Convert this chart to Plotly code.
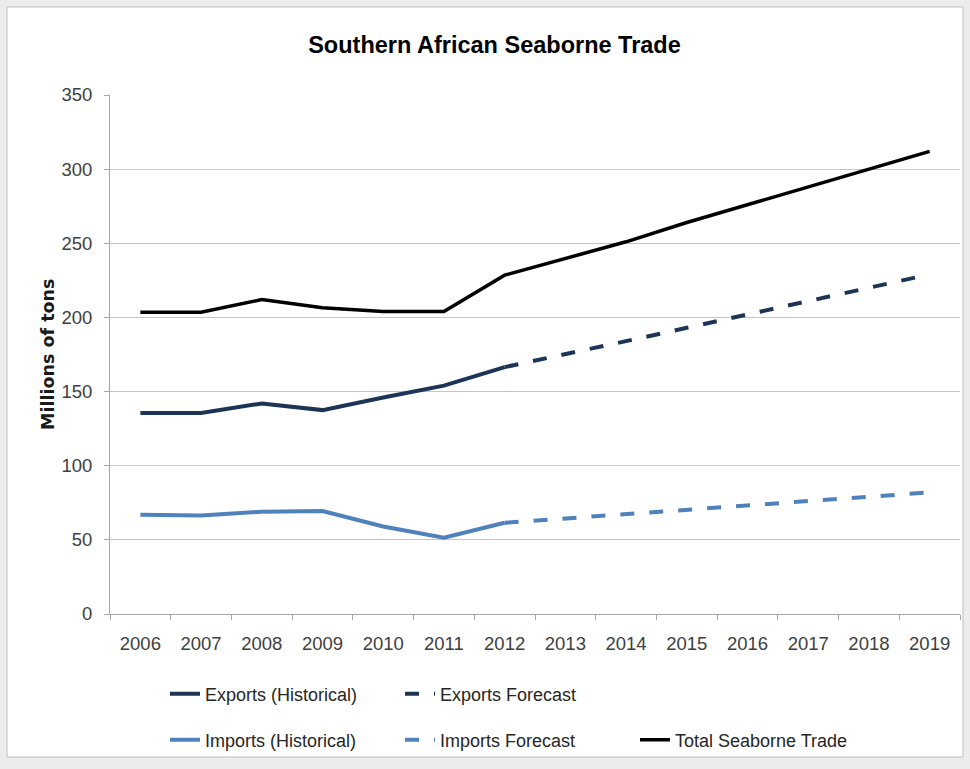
import plotly.graph_objects as go

years = ["2006", "2007", "2008", "2009", "2010", "2011", "2012",
         "2013", "2014", "2015", "2016", "2017", "2018", "2019"]
hist_years = years[:7]
fc_years = years[6:]

exports_hist = [135.5, 135.5, 142, 137.5, 146, 154, 166.5]
exports_fc = [166.5, 175, 184, 193, 202, 211, 220, 229]
imports_hist = [67, 66.5, 69, 69.5, 59, 51.5, 61.5]
imports_fc = [61.5, 64.5, 67.5, 70.5, 73.5, 76.5, 79.5, 82]
total = [203.5, 203.5, 212, 206.5, 204, 204, 228.5,
         240, 251, 264, 276, 288, 300, 312]

NAVY = "#1c3557"
LBLUE = "#4f81bd"
SANS = "Liberation Sans, Arial, sans-serif"

W, H = 970, 769
ML, MR, MT, MB = 110, 10, 95, 155
PW = W - ML - MR
PH = H - MT - MB


def px_x(p):
    return (p - ML) / PW


def px_y(q):
    return (H - MB - q) / PH


fig = go.Figure()
fig.add_trace(go.Scatter(x=hist_years, y=exports_hist, mode="lines",
                         name="Exports (Historical)",
                         line=dict(color=NAVY, width=4), legend="legend"))
fig.add_trace(go.Scatter(x=fc_years, y=exports_fc, mode="lines",
                         name="Exports Forecast",
                         line=dict(color=NAVY, width=4, dash="14px,15px"),
                         legend="legend"))
fig.add_trace(go.Scatter(x=hist_years, y=imports_hist, mode="lines",
                         name="Imports (Historical)",
                         line=dict(color=LBLUE, width=4), legend="legend2"))
fig.add_trace(go.Scatter(x=fc_years, y=imports_fc, mode="lines",
                         name="Imports Forecast",
                         line=dict(color=LBLUE, width=4, dash="14px,15px"),
                         legend="legend2"))
fig.add_trace(go.Scatter(x=years, y=total, mode="lines",
                         name="Total Seaborne Trade",
                         line=dict(color="#000000", width=3.5),
                         legend="legend2"))

legend_common = dict(orientation="h", xanchor="left", yanchor="middle",
                     bgcolor="rgba(0,0,0,0)", entrywidth=190,
                     entrywidthmode="pixels",
                     font=dict(family=SANS, size=18, color="#262626"))

fig.update_layout(
    width=W, height=H,
    margin=dict(l=ML, r=MR, t=MT, b=MB, autoexpand=False),
    paper_bgcolor="#ececec",
    plot_bgcolor="#ffffff",
    showlegend=True,
    title=dict(text="<b>Southern African Seaborne Trade</b>",
               x=494.5 / W, xref="container", xanchor="center",
               y=1 - 45 / H, yref="container", yanchor="middle",
               font=dict(family=SANS, size=23.5, color="#000000")),
    legend=dict(x=px_x(165), y=px_y(694), **legend_common),
    legend2=dict(x=px_x(165), y=px_y(740), **legend_common),
    xaxis=dict(type="category", categoryorder="array", categoryarray=years,
               range=[-0.5, 13.5], tickson="boundaries",
               ticks="outside", ticklen=5, tickcolor="#a6a6a6",
               showline=True, linecolor="#a6a6a6", linewidth=1,
               showgrid=False, zeroline=False,
               ticklabelstandoff=13,
               tickfont=dict(family=SANS, size=18.5, color="#404040")),
    yaxis=dict(range=[0, 350], dtick=50, tick0=0,
               ticks="outside", ticklen=5, tickcolor="#a6a6a6",
               showline=True, linecolor="#a6a6a6", linewidth=1,
               showgrid=True, gridcolor="#c4c4c4", gridwidth=1,
               zeroline=False, ticklabelstandoff=8,
               tickfont=dict(family=SANS, size=18.5, color="#404040")),
    shapes=[dict(type="rect", xref="paper", yref="paper",
                 x0=px_x(7), x1=px_x(963), y0=px_y(757), y1=px_y(7),
                 fillcolor="#ffffff", line=dict(color="#bdbdbd", width=1),
                 layer="below")],
    annotations=[dict(text="<b>Millions of tons</b>", xref="paper", yref="paper",
                      x=px_x(48), y=px_y(355), textangle=-90,
                      showarrow=False, xanchor="center", yanchor="middle",
                      font=dict(family="DejaVu Sans, sans-serif", size=17.5,
                                color="#1a1a1a"))],
)

fig.write_html(
    "out.html",
    config={"displayModeBar": False},
    post_script="document.body.style.margin='0';"
                "document.body.style.background='#ececec';",
)
